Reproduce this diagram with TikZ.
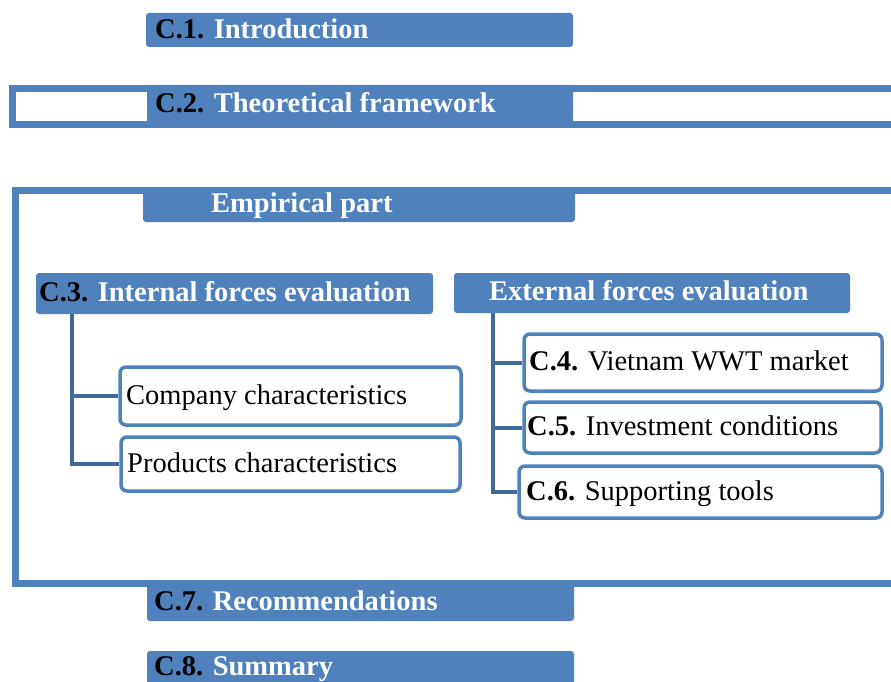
\documentclass[tikz,border=0pt]{standalone}
\usepackage{fontspec}
\setmainfont{Liberation Serif}
\definecolor{barblue}{HTML}{4F81BD}
\definecolor{treeblue}{HTML}{41699A}

% heading text: black prefix followed by white bold text; #1 name, #2 x, #3 y, #4 prefix, #5 text
\newcommand\headtext[5]{%
  \node[head] (#1-text) at (#2,#3) {\textcolor{black}{#4}#5};
}

\begin{document}
\begin{tikzpicture}[x=1pt,y=-1pt,
  bar/.style={fill=barblue, draw=none, rounded corners=3pt, inner sep=0pt, outer sep=0pt, anchor=north west},
  frame/.style={draw=barblue, line width=7pt},
  item/.style={draw=barblue, fill=white, line width=3.5pt, rounded corners=6pt, inner sep=0pt, outer sep=0pt, anchor=north west},
  tree/.style={draw=treeblue, line width=4pt, shorten >=1.75pt},
  head/.style={anchor=base west, inner sep=0pt, font=\fontsize{28.5}{34}\selectfont\bfseries, text=white},
  label/.style={anchor=base west, inner sep=0pt, font=\fontsize{28.5}{34}\selectfont, text=black}
]
\useasboundingbox (0,0) rectangle (891,682);
\clip (0,0) rectangle (891,682);

% outer frames of the second and the empirical part
\draw[frame] (12.5,88.5) rectangle (905,124.5);
\draw[frame] (15.5,190.5) rectangle (905,583);

% heading bars
\node[bar, minimum width=427pt, minimum height=34pt] (c1) at (146,13) {};
\node[bar, minimum width=426pt, minimum height=43pt] (c2) at (147,85) {};
\node[bar, minimum width=432pt, minimum height=35pt] (emp) at (143,187) {};
\node[bar, minimum width=397pt, minimum height=41pt] (c3) at (36,273) {};
\node[bar, minimum width=396pt, minimum height=40pt] (ext) at (454,273) {};
\node[bar, minimum width=427pt, minimum height=41pt] (c7) at (147,580) {};
\node[bar, minimum width=427pt, minimum height=45pt] (c8) at (147,651) {};

\headtext{c1}{155}{39}{C.1. }{Introduction}
\headtext{c2}{155}{113}{C.2. }{Theoretical framework}
\headtext{emp}{211}{212}{}{Empirical part}
\headtext{c3}{39}{301}{C.3. }{Internal forces evaluation}
\headtext{ext}{489}{300}{}{External forces evaluation}
\headtext{c7}{154}{610}{C.7. }{Recommendations}
\headtext{c8}{154}{675}{C.8. }{Summary}

% item boxes
\node[item, minimum width=341pt, minimum height=58pt] (comp) at (120,367) {};
\node[item, minimum width=339pt, minimum height=54pt] (prod) at (121,437) {};
\node[item, minimum width=358pt, minimum height=57pt] (c4) at (524,334) {};
\node[item, minimum width=357pt, minimum height=51pt] (c5) at (524,402) {};
\node[item, minimum width=363pt, minimum height=52pt] (c6) at (519,466) {};

\node[label] (comp-text) at (126,404) {Company characteristics};
\node[label] (prod-text) at (127,472) {Products characteristics};
\node[label] (c4-text) at (529,370) {\textbf{C.4.} Vietnam WWT market};
\node[label] (c5-text) at (527,435) {\textbf{C.5.} Investment conditions};
\node[label] (c6-text) at (526,500) {\textbf{C.6.} Supporting tools};

% tree connectors
\coordinate (lt) at ([xshift=36pt]c3.south west);
\draw[tree] (lt) |- (prod.west);
\draw[tree] (lt |- comp.west) -- (comp.west);

\coordinate (rt) at ([xshift=39pt]ext.south west);
\draw[tree] (rt) |- (c6.west);
\draw[tree] (rt |- c4.west) -- (c4.west);
\draw[tree] (rt |- c5.west) -- (c5.west);
\end{tikzpicture}
\end{document}
